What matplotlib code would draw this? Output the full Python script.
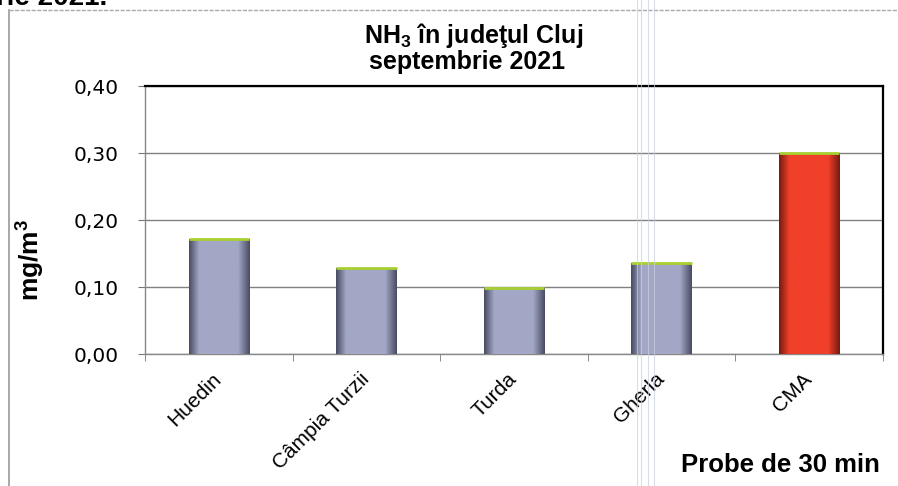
import numpy as np
import matplotlib.pyplot as plt
from matplotlib.lines import Line2D
from matplotlib.colors import LinearSegmentedColormap

plt.rcParams["mathtext.fontset"] = "custom"
plt.rcParams["mathtext.rm"] = "Liberation Sans"
plt.rcParams["mathtext.bf"] = "Liberation Sans:bold"

# Date
statii = ["Huedin", "Câmpia Turzii", "Turda", "Gherla", "CMA"]
valori = [0.172, 0.128, 0.099, 0.136, 0.300]
culori_deschise = ["#a3a7c6", "#a3a7c6", "#a3a7c6", "#a3a7c6", "#f0402a"]
culori_inchise = ["#4a4d63", "#4a4d63", "#4a4d63", "#4a4d63", "#7a1a10"]
y_ticks = [0.0, 0.1, 0.2, 0.3, 0.4]
y_labels = ["0,00", "0,10", "0,20", "0,30", "0,40"]

W, H = 898, 486
fig = plt.figure(figsize=(W / 100, H / 100), dpi=100)
ax = fig.add_axes([145 / W, 1 - 354 / H, (883 - 145) / W, (354 - 86) / H])

x = np.arange(len(statii))
latime = 0.41
bare = ax.bar(x, valori, width=latime, color=culori_deschise, edgecolor="none", zorder=3)
# umplere cu gradient (margini inchise, centru deschis)
profil = np.concatenate([np.linspace(0, 1, 14), np.ones(50), np.linspace(1, 0, 16)])[None, :]
for b, c1, c2 in zip(bare, culori_deschise, culori_inchise):
    cmap = LinearSegmentedColormap.from_list("g", [c2, c1])
    bx, bw, bh = b.get_x(), b.get_width(), b.get_height()
    im = ax.imshow(profil, cmap=cmap, aspect="auto", extent=[bx, bx + bw, 0, bh],
                   zorder=3, interpolation="bilinear")
    im.set_clip_path(b)
# margine verde pe partea de sus a barelor
ax.hlines(valori, x - latime / 2, x + latime / 2, colors="#a8d030", linewidth=2, zorder=4)

ax.set_xlim(-0.5, len(statii) - 0.5)
ax.set_ylim(0, 0.4)
ax.set_yticks(y_ticks)
ax.set_yticklabels(y_labels, fontsize=14.5, family="DejaVu Sans")
ax.yaxis.grid(True, color="#808080", linewidth=1.0, zorder=0)
ax.set_axisbelow(True)

ax.set_xticks(x)
ax.set_xticklabels(statii, rotation=45, ha="right", va="center", rotation_mode="anchor",
                   fontsize=15, family="Liberation Sans")
ax.tick_params(axis="x", length=0, pad=16)
# tick-uri intre categorii
ax.set_xticks(np.arange(len(statii) + 1) - 0.5, minor=True)
ax.tick_params(axis="x", which="minor", length=5, direction="out", color="#777777")
ax.tick_params(axis="y", length=5, color="#777777", pad=14)

for s in ["left", "bottom"]:
    ax.spines[s].set_color("#888888")
    ax.spines[s].set_linewidth(1.0)
for s in ["top", "right"]:
    ax.spines[s].set_color("black")
    ax.spines[s].set_linewidth(1.6)

ax.set_ylabel("mg/m$^\\mathbf{3}$", fontsize=19, fontweight="bold", family="Liberation Sans")
ax.yaxis.set_label_coords((46 - 145) / (883 - 145), (354 - 260) / (354 - 86))

fig.text(474 / W, 1 - 43 / H, "NH$_\\mathbf{3}$ în judeţul Cluj", ha="center", va="baseline",
         fontsize=18, fontweight="bold", family="Liberation Sans")
fig.text(467 / W, 1 - 69 / H, "septembrie 2021", ha="center", va="baseline",
         fontsize=18, fontweight="bold", family="Liberation Sans")
fig.text(880 / W, 1 - 465 / H, "Probe de 30 min", ha="right", va="center",
         fontsize=18.5, fontweight="bold", family="Liberation Sans")
fig.text(-0.004, 1 - 5 / H, "rie 2021.", ha="left", va="baseline", fontsize=20,
         fontweight="bold", family="Liberation Sans")

# chenar document
fig.add_artist(Line2D([9 / W, 9 / W], [0, 1 - 10 / H], color="#999999", linewidth=1.2))
fig.add_artist(Line2D([9 / W, 1], [1 - 10 / H, 1 - 10 / H], color="#aaaaaa",
                      linewidth=1.0, linestyle=(0, (3, 1))))
# urme de scanare
for xs in [637, 641, 648, 654]:
    fig.add_artist(Line2D([xs / W, xs / W], [0, 1], color="#c8d0e0", linewidth=0.8, alpha=0.7))

fig.savefig("out.png", dpi=100)
